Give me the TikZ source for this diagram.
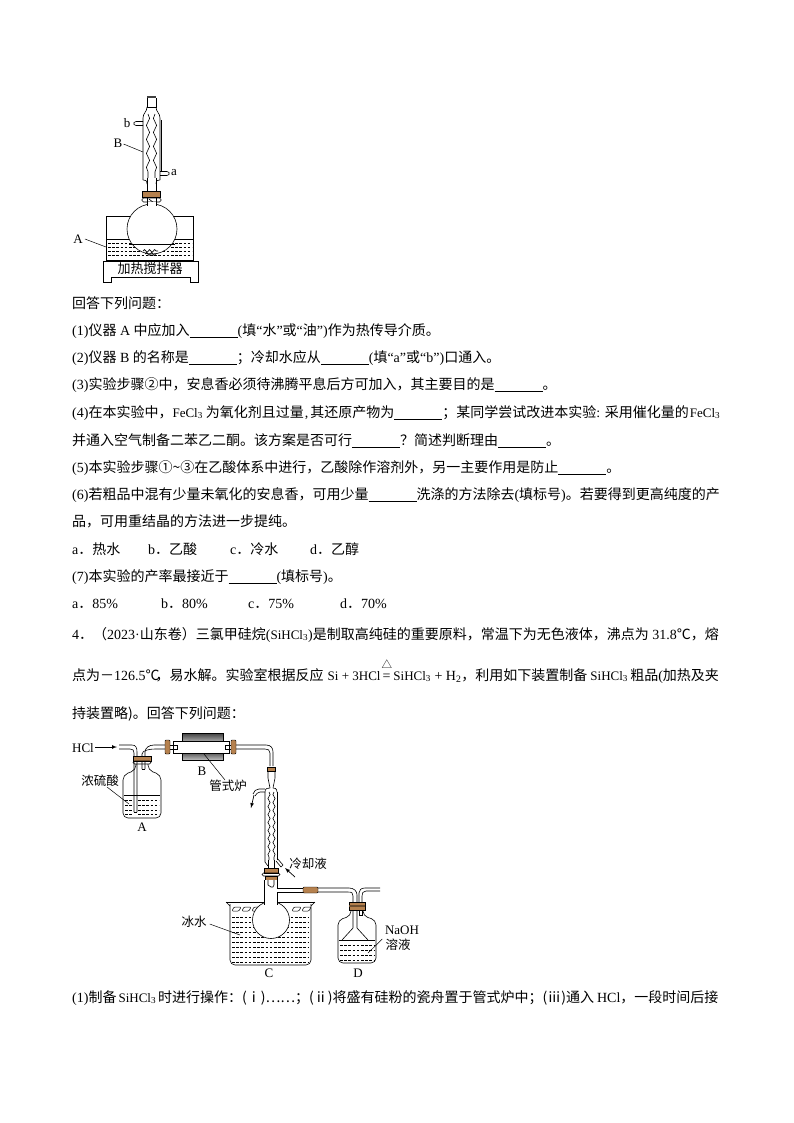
\documentclass[tikz,border=0pt]{standalone}
\usepackage{fontspec}
\setmainfont{Liberation Serif}
\newfontfamily\cjk{Noto Sans CJK SC}
\newcommand{\zh}[1]{{\cjk #1}}
\newcommand{\blank}{\rule[-2.5pt]{48pt}{0.7pt}}
\newcommand{\chem}[2]{{\fontsize{13}{14}\selectfont #1$_{\mathrm{#2}}$}}
\usetikzlibrary{positioning, shapes.geometric, arrows, decorations.pathmorphing}
\definecolor{stopper}{HTML}{B5814E}
\tikzset{
	txtline/.style={anchor=base west, inner sep=0pt, font=\fontsize{14}{16}\selectfont},
	lbl/.style={inner sep=0pt, font=\fontsize{13}{14}\selectfont},
	zhlbl/.style={inner sep=0pt, font=\fontsize{12.5}{14}\selectfont\cjk},
	glass/.style={draw, line width=0.6pt},
	cork/.style={draw, line width=0.4pt, fill=stopper},
	leader/.style={draw, line width=0.5pt},
	flow/.style={-latex, line width=0.7pt},
	liq/.style={line width=0.4pt, dash pattern=on 2.6pt off 1.6pt},
	wavy/.style={line width=0.6pt, decorate, decoration={snake, amplitude=1.6pt, segment length=14pt}},
	wavym/.style={line width=0.6pt, decorate, decoration={snake, amplitude=1.6pt, segment length=14pt, mirror}},
	wavyb/.style={line width=0.6pt, decorate, decoration={snake, amplitude=1.1pt, segment length=8pt}},
	wavybm/.style={line width=0.6pt, decorate, decoration={snake, amplitude=1.1pt, segment length=8pt, mirror}}
}
\begin{document}
\begin{tikzpicture}[x=1pt, y=-1pt]
	\useasboundingbox (0,0) rectangle (794,1123);

	% Figure 1: condenser and flask
	\fill[black!75] (147,96) rectangle (156,98.5);
	\draw[glass] (147,98) -- (147,107) -- (156,107) -- (156,98);
	\draw[glass] (147,107) .. controls (147,112) and (143,113) .. (143,118) -- (143,180);
	\draw[glass] (156,107) .. controls (156,112) and (160,113) .. (160,118) -- (160,180);
	\draw[glass] (161,120) -- (161,171);
	\draw[wavy] (148,114) -- (148,178);
	\draw[wavym] (155,114) -- (155,178);
	\draw[glass] (143,180) .. controls (145,180) and (147,180) .. (147,184);
	\draw[glass] (160,180) .. controls (158,180) and (156,180) .. (156,184);
	\draw[glass] (147,178) -- (147,191);
	\draw[glass] (156,178) -- (156,191);
	% side arms
	\draw[glass] (143,121.5) -- (136,121.5) -- (134,122.5) -- (134,124.5) -- (136,125.5) -- (143,125.5);
	\draw[glass] (160,171.5) -- (167,171.5) -- (169,172.5) -- (169,174.5) -- (167,175.5) -- (160,175.5);
	\node[lbl] (portb) at (127,123) {b};
	\node[lbl] (porta) at (174,173) {a};
	\node[lbl] (condB) at (118,143) {B};
	\coordinate (condBend) at (143,152);
	\draw[leader] (condB.east) ++(1,1) -- (condBend);
	% stopper, neck
	\draw[cork] (142,191.5) rectangle (160,197);
	\draw[glass, rounded corners=1.5pt] (142,198) rectangle (161,202);
	\draw[glass] (147,197) -- (147,204);
	\draw[glass] (156,197) -- (156,204);
	\draw[glass] (149,199) -- (154,203);
	% bath and flask
	\draw[glass] (106,216) rectangle (193,260);
	\draw[glass] (106,239) -- (193,239);
	\foreach \yy in {243,247,251,255} \draw[liq] (108,\yy) -- (192,\yy);
	\draw[glass, fill=white] (152,229) circle[radius=25];
	\fill[white] (147.5,202) rectangle (155.5,206);
	\draw[glass] (147,202) -- (147,206);
	\draw[glass] (156,202) -- (156,206);
	\draw[glass] (129,244) -- (175,244);
	\draw[line width=0.7pt, decorate, decoration={snake, amplitude=1.4pt, segment length=5pt}] (143,251) -- (158,251);
	\draw[line width=0.7pt, decorate, decoration={snake, amplitude=1.4pt, segment length=5pt}] (145,254) -- (156,254);
	% stirrer base
	\draw[glass] (103,261) -- (198,261) -- (198,282) -- (190,282) -- (190,277) -- (111,277) -- (111,282) -- (103,282) -- cycle;
	\node[zhlbl, font=\fontsize{13}{14}\selectfont\cjk] (stirrer) at (150,269) {加热搅拌器};
	\node[lbl] (bathA) at (78,239) {A};
	\coordinate (bathAend) at (106,247);
	\draw[leader] (bathA.east) ++(2,0) -- (bathAend);

	% Questions
	\node[txtline] (head) at (72,308) {\zh{回答下列问题：}};
	\node[txtline] (qa) at (72,335) {(1)\zh{仪器} A \zh{中应加入}\blank(\zh{填}“\zh{水}”\zh{或}“\zh{油}”)\zh{作为热传导介质。}};
	\node[txtline] (qb) at (72,362) {(2)\zh{仪器} B \zh{的名称是}\blank\zh{；冷却水应从}\blank(\zh{填}“a”\zh{或}“b”)\zh{口通入。}};
	\node[txtline] (qc) at (72,389) {(3)\zh{实验步骤②中，安息香必须待沸腾平息后方可加入，其主要目的是}\blank\zh{。}};
	\node[txtline] (qd) at (72,417) {(4)\zh{在本实验中，}\chem{FeCl}{3}\hspace{3pt}\zh{为氧化剂且过量}\hspace{1pt},\hspace{2pt}\zh{其还原产物为}\blank\zh{；某同学尝试改进本实验}: \zh{采用催化量的}\hspace{1pt}\chem{FeCl}{3}};
	\node[txtline] (qe) at (72,445) {\zh{并通入空气制备二苯乙二酮。该方案是否可行}\blank\zh{？简述判断理由}\blank\zh{。}};
	\node[txtline] (qf) at (72,472) {(5)\zh{本实验步骤①\textasciitilde ③在乙酸体系中进行，乙酸除作溶剂外，另一主要作用是防止}\blank\zh{。}};
	\node[txtline] (qg) at (72,499) {(6)\zh{若粗品中混有少量未氧化的安息香，可用少量}\blank\zh{洗涤的方法除去}(\zh{填标号})\zh{。若要得到更高纯度的产}};
	\node[txtline] (qh) at (72,526) {\zh{品，可用重结晶的方法进一步提纯。}};
	\node[txtline] (opta) at (72,554) {a\zh{．热水}};
	\node[txtline] (optb) at (148,554) {b\zh{．乙酸}};
	\node[txtline] (optc) at (230,554) {c\zh{．冷水}};
	\node[txtline] (optd) at (310,554) {d\zh{．乙醇}};
	\node[txtline] (qi) at (72,581) {(7)\zh{本实验的产率最接近于}\blank(\zh{填标号})\zh{。}};
	\node[txtline] (pcta) at (72,608) {a\zh{．}85\%};
	\node[txtline] (pctb) at (161,608) {b\zh{．}80\%};
	\node[txtline] (pctc) at (248,608) {c\zh{．}75\%};
	\node[txtline] (pctd) at (340,608) {d\zh{．}70\%};
	\node[txtline] (qj) at (72,639) {4\zh{．（}2023·\zh{山东卷）三氯甲硅烷}(\chem{SiHCl}{3})\zh{是制取高纯硅的重要原料，常温下为无色液体，沸点为} 31.8\zh{℃，熔}};
	\node[txtline] (qk) at (72,680) {\zh{点为－}126.5\zh{℃}\hspace{-4pt}\zh{，易水解。实验室根据反应}\hspace{4pt}{\fontsize{13}{14}\selectfont Si + 3HCl}\hspace{2pt}\makebox[0pt][l]{\hspace{-1pt}\raisebox{11.5pt}{\fontsize{10.5}{11}\selectfont\zh{△}}}=\hspace{3pt}\chem{SiHCl}{3} + H$_{\mathrm{2}}$\zh{，利用如下装置制备}\hspace{3pt}\chem{SiHCl}{3}\,\zh{粗品}(\zh{加热及夹}};
	\node[txtline] (ql) at (72,718) {\zh{持装置略}\zh{)。回答下列问题：}};
	\node[txtline] (qm) at (72,1002) {(1)\zh{制备}\hspace{2pt}\chem{SiHCl}{3}\hspace{2pt}\zh{时进行操作：(ⅰ)……；(ⅱ)将盛有硅粉的瓷舟置于管式炉中；(ⅲ)通入}\hspace{3pt}HCl\zh{，一段时间后接}};

	% Figure 2: gas bottle A
	\node[lbl] (hcl) at (83,748) {HCl};
	\coordinate (hclend) at (117,747);
	\draw[flow] (hcl.east) ++(1,-1) -- (hclend);
	\draw[glass] (119,745) -- (132,745) .. controls (136,745) and (137,748) .. (137,752) -- (137,812);
	\draw[glass] (119,749) -- (130,749) .. controls (133,749) and (134,750) .. (134,753) -- (134,812);
	\draw[glass] (134,812) -- (137,812);
	\draw[glass] (165,745) -- (154,745) .. controls (149,745) and (145,748) .. (145,752) -- (145,769);
	\draw[glass] (165,749) -- (155,749) .. controls (151,749) and (142,750) .. (142,754) -- (142,769);
	\draw[glass] (142,769) -- (145,769);
	\draw[cork] (133,756) rectangle (151,761);
	\draw[glass, rounded corners=1.5pt] (133,761) rectangle (151,764);
	\draw[glass, rounded corners=5pt] (136,764) -- (136,770) -- (123,775) -- (123,818) -- (161,818) -- (161,775) -- (148,770) -- (148,764);
	\draw[glass] (124,795) -- (160,795);
	\foreach \yy in {800,805,810,814} \draw[liq] (125,\yy) -- (133,\yy) (138,\yy) -- (159,\yy);
	\node[zhlbl] (acid) at (100,781) {浓硫酸};
	\coordinate (acidend) at (129,804);
	\draw[leader] (acid.south) ++(7,0) -- (acidend);
	\node[lbl] (bottleA) at (142,827) {A};

	% Furnace B
	\draw[glass, top color=black!75, bottom color=black!30] (182,733) rectangle (223,742);
	\draw[glass, top color=black!70, bottom color=black!25] (182,752) rectangle (223,760);
	\draw[glass, fill=white] (173,741) rectangle (229,753);
	\draw[glass] (173,745) -- (177,745) -- (177,749) -- (173,749);
	\draw[glass] (229,745) -- (225,745) -- (225,749) -- (229,749);
	\draw[glass] (170,745) -- (173,745) (170,749) -- (173,749);
	\draw[glass] (229,745) -- (231,745) (229,749) -- (231,749);
	\draw[cork, rounded corners=1pt] (165,740) rectangle (170,754);
	\draw[cork, rounded corners=1pt] (231,740) rectangle (236,754);
	\draw[glass] (236,745) -- (266,745) .. controls (271,745) and (273,748) .. (273,752) -- (273,766);
	\draw[glass] (236,749) -- (265,749) .. controls (268,749) and (270,750) .. (270,753) -- (270,766);
	\node[lbl] (furnB) at (202,771) {B};
	\node[zhlbl] (furn) at (228,786) {管式炉};
	\coordinate (furnstart) at (204,754);
	\draw[leader] (furnstart) -- ([xshift=-3pt]furn.north);

	% Condenser over C
	\draw[cork] (267,767) rectangle (275,771);
	\draw[glass] (268,771) -- (268,778) -- (270,788);
	\draw[glass] (275,771) -- (275,778) -- (273,788);
	\draw[glass] (265,792) .. controls (265,788) and (268,788) .. (270,788);
	\draw[glass] (277,792) .. controls (277,788) and (274,788) .. (273,788);
	\draw[glass] (265,792) -- (265,862) -- (268,866);
	\draw[glass] (277,792) -- (277,860);
	\draw[wavyb] (269,792) -- (269,860);
	\draw[wavybm] (274,792) -- (274,860);
	\draw[glass] (268,860) -- (268,869);
	\draw[glass] (274,860) -- (274,869);
	\draw[glass] (277,858) -- (283,865) -- (281,867) -- (276,861);
	% outlet arm
	\draw[glass] (265,789) -- (259,789) .. controls (256,789) and (254,791) .. (253,794);
	\draw[glass] (265,792) -- (260,792) .. controls (258,792) and (256,794) .. (255,796);
	\coordinate (outletstart) at (254,795);
	\coordinate (outlettip) at (251,808);
	\draw[flow] (outletstart) -- (outlettip);
	\node[zhlbl] (coolant) at (308,864) {冷却液};
	\coordinate (coolantstart) at (295,877);
	\coordinate (coolantend) at (285,868);
	\draw[flow] (coolantstart) -- (coolantend);
	% stopper C
	\draw[cork] (264,868) rectangle (278,873);
	\draw[glass, rounded corners=1.5pt] (262,873) rectangle (280,876);
	\draw[cork] (265,876) rectangle (277,880);

	% Beaker C
	\draw[glass] (226,902) -- (315,902);
	\draw[glass] (226,902) -- (230,906);
	\draw[glass] (315,902) -- (311,906);
	\draw[glass, rounded corners=5pt] (230,904) -- (230,965) -- (311,965) -- (311,904);
	\foreach \xx in {232,242,252,292,302}
		\draw[line width=0.5pt, rounded corners=1pt] (\xx,911) -- (\xx+2,907) -- (\xx+9,907) -- (\xx+7,911) -- cycle;
	\foreach \yy in {917,922,...,962} \draw[liq] (232,\yy) -- (309,\yy);
	\draw[glass, fill=white] (271,920) circle[radius=18.5];
	\fill[white] (264.5,880) rectangle (276.5,905);
	\draw[glass] (264,880) -- (264,905);
	\draw[glass] (277,880) -- (277,888);
	\draw[glass] (277,892) -- (277,905);
	\draw[glass] (268,880) -- (268,885) -- (271,887) -- (273,887) -- (274,885) -- (274,880);
	\node[zhlbl] (ice) at (194,922) {冰水};
	\coordinate (iceend) at (240,935);
	\draw[leader] (ice.east) ++(3,2) -- (iceend);
	\node[lbl] (beakerC) at (269,973) {C};

	% Tube to D
	\draw[glass] (277,888) -- (303,888);
	\draw[glass] (277,892) -- (303,892);
	\draw[cork, rounded corners=1pt] (303,887) rectangle (318,893);
	\draw[glass] (318,888) -- (349,888) .. controls (354,888) and (357,891) .. (357,895) -- (357,902);
	\draw[glass] (318,892) -- (348,892) .. controls (352,892) and (353,893) .. (353,896) -- (353,902);
	\draw[glass] (380,888) -- (365,888) .. controls (361,888) and (359,890) .. (359,893) -- (359,902);
	\draw[glass] (380,891) -- (366,891) .. controls (363,891) and (362,893) .. (362,896) -- (362,902);
	\draw[cork] (349,902) rectangle (365,910);
	\fill[stopper!60!black] (349.2,904.5) rectangle (364.8,907);
	% Bottle D
	\draw[glass, rounded corners=5pt] (351,910) -- (351,916) -- (338,920) -- (338,963) -- (376,963) -- (376,920) -- (363,916) -- (363,910);
	\draw[glass] (353,910) -- (353,928) -- (342,940);
	\draw[glass] (357,910) -- (357,928) -- (368,940);
	\draw[glass] (359,910) -- (359,915) -- (362,915) -- (362,910);
	\draw[glass] (339,940) -- (375,940);
	\foreach \yy in {945,950,955,960} \draw[liq] (340,\yy) -- (374,\yy);
	\node[lbl] (naoh) at (402,930) {NaOH};
	\node[zhlbl] (soln) at (398,945) {溶液};
	\coordinate (solnend) at (368,953);
	\draw[leader] ([xshift=-3pt]soln.north west) -- (solnend);
	\node[lbl] (bottleD) at (358,973) {D};
\end{tikzpicture}
\end{document}
